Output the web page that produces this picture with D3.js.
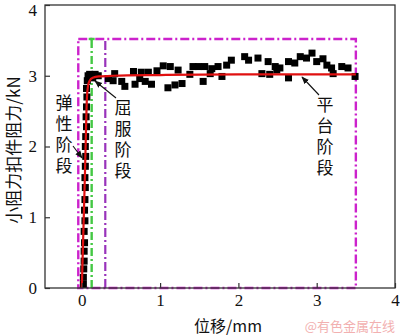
<!DOCTYPE html>
<html>
<head>
<meta charset="utf-8">
<script src="https://cdn.jsdelivr.net/npm/d3@7/dist/d3.min.js"></script>
<style>
  html, body { margin: 0; padding: 0; background: #fff; }
  svg { display: block; }
</style>
</head>
<body>
<svg id="chart" width="400" height="336"></svg>
<script>
// Measured load–displacement points (displacement mm, resistance kN)
const elasticPts = [
  [0.02,0.05],[0.02,0.15],[0.025,0.27],[0.03,0.38],[0.03,0.52],[0.035,0.64],
  [0.03,0.8],[0.04,0.95],[0.035,1.1],[0.04,1.25],[0.045,1.42],[0.04,1.56],
  [0.045,1.72],[0.05,1.86],[0.045,2.0],[0.05,2.14],[0.06,2.28],[0.055,2.42],
  [0.06,2.56],[0.065,2.7],[0.06,2.82],[0.07,2.93],[0.08,3.0],[0.1,3.02],
  [0.12,2.99],[0.14,2.97]
];
const plateauPts = [
  [0.17,3.02],[0.21,3.0],[0.34,2.96],[0.42,3.03],[0.40,2.93],[0.51,2.92],
  [0.55,2.85],[0.66,3.06],[0.68,2.88],[0.74,2.96],[0.76,3.05],[0.81,2.92],
  [0.85,3.05],[0.89,2.88],[0.96,3.07],[1.04,3.14],[1.13,3.13],[1.10,2.83],
  [1.19,2.87],[1.23,3.08],[1.28,2.89],[1.38,3.02],[1.42,3.13],[1.49,3.13],
  [1.55,2.92],[1.57,3.13],[1.64,3.03],[1.66,3.10],[1.74,3.13],[1.79,2.99],
  [1.85,3.15],[1.91,3.22],[2.08,3.27],[2.13,3.22],[2.25,3.25],[2.30,3.03],
  [2.38,3.20],[2.40,3.02],[2.47,3.13],[2.49,3.08],[2.53,3.11],[2.64,3.20],
  [2.64,2.97],[2.72,3.18],[2.79,3.27],[2.87,3.25],[2.94,3.32],[3.00,3.20],
  [3.08,3.24],[3.13,3.15],[3.19,3.11],[3.21,3.03],[3.32,3.13],[3.40,3.11],
  [3.49,2.99]
];
// Fitted curve through the three stages
const fitCurve = [
  [0.0,0.0],[0.02,0.8],[0.04,1.6],[0.055,2.3],[0.065,2.68],[0.08,2.86],
  [0.1,2.93],[0.14,2.97],[0.22,2.99],[0.4,3.0],[1.0,3.01],[2.0,3.02],[3.5,3.02]
];
// Stage boundaries
const stageBox = { x0: -0.045, x1: 3.5, top: 3.52 };
const elasticEnd = 0.126;
const yieldEnd = 0.30;
const xTicks = [0, 1, 2, 3, 4];
const yTicks = [0, 1, 2, 3, 4];
const stageNames = ["弹性阶段", "屈服阶段", "平台阶段"];

const svg = d3.select("#chart");
const M = { left: 45, right: 395, top: 5, bottom: 288 };
const x = d3.scaleLinear().domain([-0.47, 4]).range([M.left, M.right]);
const y = d3.scaleLinear().domain([0, 4]).range([M.bottom, M.top]);

const numFont = "'Liberation Serif', 'Times New Roman', serif";
const cjkFont = "'Noto Sans CJK SC', sans-serif";

// stage boundary lines
const g = svg.append("g");
g.append("rect")
  .attr("x", x(stageBox.x0)).attr("y", y(stageBox.top))
  .attr("width", x(stageBox.x1) - x(stageBox.x0))
  .attr("height", y(0) - y(stageBox.top))
  .attr("fill", "none").attr("stroke", "#cc22cc").attr("stroke-width", 2.4)
  .attr("stroke-dasharray", "9,3,2,3");
g.append("line")
  .attr("x1", x(elasticEnd)).attr("x2", x(elasticEnd))
  .attr("y1", y(0)).attr("y2", y(stageBox.top))
  .attr("stroke", "#44c844").attr("stroke-width", 2.4)
  .attr("stroke-dasharray", "8,3,2,3");
g.append("line")
  .attr("x1", x(elasticEnd) - 3).attr("x2", x(elasticEnd) + 3)
  .attr("y1", y(stageBox.top)).attr("y2", y(stageBox.top))
  .attr("stroke", "#44c844").attr("stroke-width", 2.4);
g.append("line")
  .attr("x1", x(yieldEnd)).attr("x2", x(yieldEnd))
  .attr("y1", y(0)).attr("y2", y(stageBox.top))
  .attr("stroke", "#9933bb").attr("stroke-width", 2.2)
  .attr("stroke-dasharray", "9,3,2,3");

// data squares
const sq = 7;
svg.append("g").selectAll("rect")
  .data(elasticPts.concat(plateauPts))
  .join("rect")
  .attr("x", d => x(d[0]) - sq / 2)
  .attr("y", d => y(d[1]) - sq / 2)
  .attr("width", sq).attr("height", sq)
  .attr("fill", "#000");

// fitted curve
svg.append("path")
  .datum(fitCurve)
  .attr("d", d3.line().x(d => x(d[0])).y(d => y(d[1])).curve(d3.curveMonotoneX))
  .attr("fill", "none").attr("stroke", "#e01010").attr("stroke-width", 2.2);

// axes frame
svg.append("rect")
  .attr("x", M.left).attr("y", M.top)
  .attr("width", M.right - M.left).attr("height", M.bottom - M.top)
  .attr("fill", "none").attr("stroke", "#333").attr("stroke-width", 1.3);

const xAxis = svg.append("g").attr("transform", `translate(0,${M.bottom})`)
  .call(d3.axisBottom(x).tickValues(xTicks).tickSize(-5).tickPadding(6).tickFormat(d3.format("d")));
const yAxis = svg.append("g").attr("transform", `translate(${M.left},0)`)
  .call(d3.axisLeft(y).tickValues(yTicks).tickSize(-5).tickPadding(8).tickFormat(d3.format("d")));
[xAxis, yAxis].forEach(a => {
  a.select(".domain").remove();
  a.selectAll(".tick line").attr("stroke", "#333").attr("stroke-width", 1.2);
  a.selectAll(".tick text").attr("font-family", numFont).attr("font-size", 17).attr("fill", "#111");
});
// keep the top y label inside the canvas
yAxis.selectAll(".tick").filter(d => d === 4).select("text").attr("dy", "0.62em");

// axis titles
svg.append("text")
  .attr("x", 228).attr("y", 331.5)
  .attr("text-anchor", "middle")
  .attr("font-family", cjkFont).attr("font-size", 16).attr("fill", "#111")
  .text("位移/mm");
svg.append("text")
  .attr("transform", "translate(14,150) rotate(-90)")
  .attr("dy", "0.35em")
  .attr("text-anchor", "middle")
  .attr("font-family", cjkFont).attr("font-size", 17).attr("fill", "#111")
  .text("小阻力扣件阻力/kN");

// stage labels (vertical text) with leader arrows
svg.append("defs").append("marker")
  .attr("id", "arrow").attr("viewBox", "0 0 10 10")
  .attr("refX", 9).attr("refY", 5)
  .attr("markerWidth", 7).attr("markerHeight", 7)
  .attr("orient", "auto-start-reverse")
  .append("path").attr("d", "M0,1 L10,5 L0,9 Z").attr("fill", "#111");

const labelPos = [
  { cx: 64, top: 94, from: [73, 146], to: [82, 158] },
  { cx: 123, top: 99, from: [116, 98], to: [95, 81] },
  { cx: 325, top: 96, from: [319, 95], to: [302, 77] }
];
stageNames.forEach((name, k) => {
  const l = labelPos[k];
  svg.append("text")
    .attr("x", l.cx).attr("y", l.top)
    .style("writing-mode", "vertical-rl")
    .style("text-orientation", "upright")
    .style("letter-spacing", "4px")
    .attr("font-family", cjkFont).attr("font-size", 17).attr("fill", "#111")
    .text(name);
  svg.append("line")
    .attr("x1", l.from[0]).attr("y1", l.from[1])
    .attr("x2", l.to[0]).attr("y2", l.to[1])
    .attr("stroke", "#111").attr("stroke-width", 1.1)
    .attr("marker-end", "url(#arrow)");
});

// watermark
svg.append("text")
  .attr("x", 395).attr("y", 331).attr("text-anchor", "end")
  .attr("font-family", cjkFont).attr("font-size", 13).attr("fill", "#f2b0b0")
  .text("@有色金属在线");
</script>
</body>
</html>
